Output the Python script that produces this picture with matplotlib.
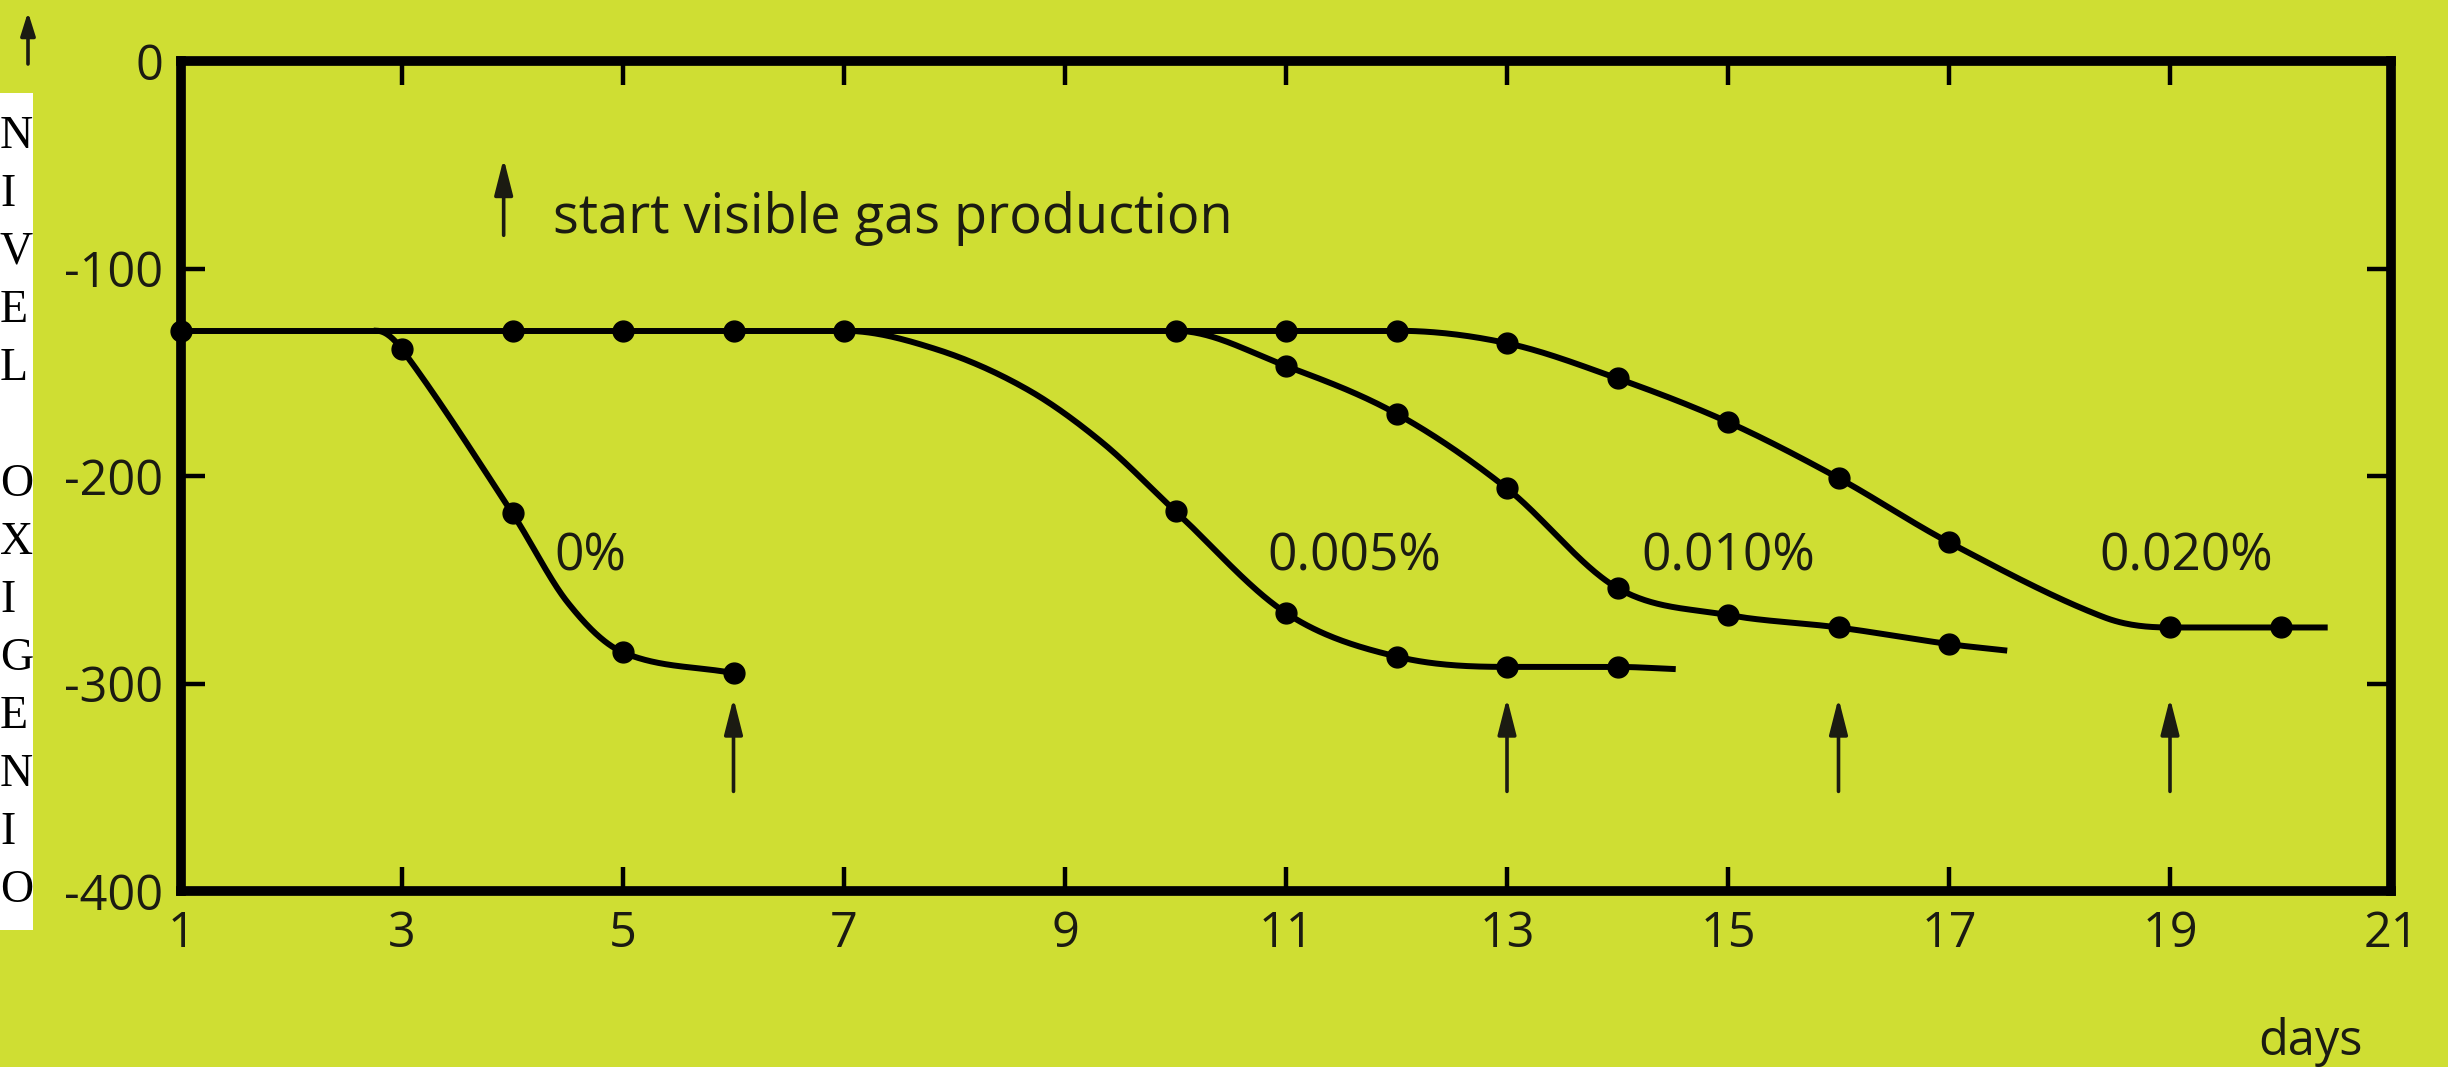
import numpy as np
import matplotlib
matplotlib.use("Agg")
import matplotlib.pyplot as plt
from matplotlib.patches import Rectangle

# ---------------- data ----------------
x_ticks = [1, 3, 5, 7, 9, 11, 13, 15, 17, 19, 21]
x_tick_labels = ["1", "3", "5", "7", "9", "11", "13", "15", "17", "19", "21"]
y_ticks = [0, -100, -200, -300, -400]
y_tick_labels = ["0", "-100", "-200", "-300", "-400"]

baseline_level = -130
baseline_days = [1, 4, 5, 6, 7, 10, 11, 12]

# 0 %
s0_days = [2.77, 3, 4, 4.5, 5, 6]
s0_vals = [-130, -139, -218, -261, -285, -295]
s0_mark_days = [3, 4, 5, 6]
s0_mark_vals = [-139, -218, -285, -295]

# 0.005 %
s1_days = [7, 7.84, 8.65, 9.34, 10, 11, 12, 13, 14, 14.5]
s1_vals = [-130, -139, -158, -184, -217, -266, -287, -292, -292, -293]
s1_mark_days = [10, 11, 12, 13, 14]
s1_mark_vals = [-217, -266, -287, -292, -292]

# 0.010 %
s2_days = [10, 11, 12, 13, 14, 15, 16, 17, 17.5]
s2_vals = [-130, -147, -170, -206, -254, -267, -273, -281, -284]
s2_mark_days = [11, 12, 13, 14, 15, 16, 17]
s2_mark_vals = [-147, -170, -206, -254, -267, -273, -281]

# 0.020 %
s3_days = [12, 13, 14, 15, 16, 17, 18.4, 19, 20, 20.4]
s3_vals = [-130, -136, -153, -174, -201, -232, -268, -273, -273, -273]
s3_mark_days = [13, 14, 15, 16, 17, 19, 20]
s3_mark_vals = [-136, -153, -174, -201, -232, -273, -273]

series_labels = ["0%", "0.005%", "0.010%", "0.020%"]
label_days = [4.7, 11.62, 15.0, 19.15]
label_vals = [-239, -239, -239, -239]

gas_start_days = [6, 13, 16, 19]

legend_text = "start visible gas production"
x_label = "days"
side_letters = ["N", "I", "V", "E", "L", "", "O", "X", "I", "G", "E", "N", "I", "O"]

# ---------------- style ----------------
BG = "#cfde33"
INK = "#1b1b12"
FONT = ["Open Sans", "DejaVu Sans"]
plt.rcParams["axes.unicode_minus"] = False


def smooth(x, y, xs):
    """Monotone-limited cubic Hermite curve through the points (for drawing)."""
    x = np.asarray(x, float)
    y = np.asarray(y, float)
    h = np.diff(x)
    d = np.diff(y) / h
    n = len(x)
    m = np.zeros(n)
    for i in range(1, n - 1):
        if d[i - 1] * d[i] > 0:
            c = (y[i + 1] - y[i - 1]) / (x[i + 1] - x[i - 1])
            lim = 3 * min(abs(d[i - 1]), abs(d[i]))
            m[i] = np.sign(c) * min(abs(c), lim)
    m[0] = 0.0
    m[-1] = d[-1]
    idx = np.clip(np.searchsorted(x, xs) - 1, 0, n - 2)
    t = (xs - x[idx]) / h[idx]
    h00 = 2 * t**3 - 3 * t**2 + 1
    h10 = t**3 - 2 * t**2 + t
    h01 = -2 * t**3 + 3 * t**2
    h11 = t**3 - t**2
    return h00 * y[idx] + h10 * h[idx] * m[idx] + h01 * y[idx + 1] + h11 * h[idx] * m[idx + 1]


W, H = 2448, 1067
fig = plt.figure(figsize=(W / 100, H / 100), dpi=100, facecolor=BG)
ax = fig.add_axes([181 / W, 1 - 891 / H, (2391 - 181) / W, (891 - 61) / H])
ax.set_facecolor(BG)
ax.set_xlim(1, 21)
ax.set_ylim(-400, 0)

LW = 4.3
MS = 15

# baseline
ax.plot([baseline_days[0], baseline_days[-1]], [baseline_level] * 2, color="black", lw=LW,
        solid_capstyle="butt", zorder=3)
ax.plot(baseline_days, [baseline_level] * len(baseline_days), "o", color="black", ms=MS,
        zorder=4, clip_on=False)

for xd, yv, mx, my in [(s0_days, s0_vals, s0_mark_days, s0_mark_vals),
                       (s1_days, s1_vals, s1_mark_days, s1_mark_vals),
                       (s2_days, s2_vals, s2_mark_days, s2_mark_vals),
                       (s3_days, s3_vals, s3_mark_days, s3_mark_vals)]:
    xs = np.linspace(xd[0], xd[-1], 400)
    ax.plot(xs, smooth(xd, yv, xs), color="black", lw=LW, zorder=3)
    ax.plot(mx, my, "o", color="black", ms=MS, zorder=4)

for lab, lx, ly in zip(series_labels, label_days, label_vals):
    ax.text(lx, ly, lab, ha="center", va="center", fontsize=37, family=FONT, color=INK)

arrow_kw = dict(arrowstyle="-|>,head_length=1.1,head_width=0.28", color=INK, lw=2.6,
                mutation_scale=20, shrinkA=0, shrinkB=0)
for d in gas_start_days:
    ax.annotate("", xy=(d, -307), xytext=(d, -352), arrowprops=arrow_kw)

# legend arrow + text
ax.annotate("", xy=(3.92, -47), xytext=(3.92, -84), arrowprops=arrow_kw)
ax.text(4.37, -83, legend_text, ha="left", va="baseline", fontsize=39, family=FONT, color=INK)

# axes styling
ax.set_xticks(x_ticks)
ax.set_xticklabels(x_tick_labels)
ax.set_yticks(y_ticks)
ax.set_yticklabels(y_tick_labels)
ax.tick_params(direction="in", length=17, width=3.2, top=True, right=True,
               labelsize=35, colors="black", labelcolor=INK, pad=13)
for lab in ax.get_xticklabels() + ax.get_yticklabels():
    lab.set_family(FONT)
for sp in ax.spines.values():
    sp.set_linewidth(7)
    sp.set_color("black")

fig.text(2310 / W, 1 - 1042 / H, x_label, ha="center", va="center", fontsize=35,
         family=FONT, color=INK)

# white box with vertical letters
fig.patches.append(Rectangle((0, 1 - 930 / H), 33 / W, (930 - 93) / H,
                             transform=fig.transFigure, facecolor="white", edgecolor="none", zorder=5))
for i, ch in enumerate(side_letters):
    if ch:
        fig.text(0 / W, 1 - (148 + 58 * i) / H, ch, ha="left", va="baseline", fontsize=33,
                 family=["Liberation Serif", "DejaVu Serif"], color="black", zorder=6)

# small arrow top-left
ax.annotate("", xy=(28, H - 12), xytext=(28, H - 64), xycoords="figure pixels",
            textcoords="figure pixels", annotation_clip=False,
            arrowprops=dict(arrowstyle="-|>,head_length=0.7,head_width=0.22", color=INK, lw=2.6,
                            mutation_scale=20, shrinkA=0, shrinkB=0))

fig.savefig("out.png", dpi=100, facecolor=BG)
